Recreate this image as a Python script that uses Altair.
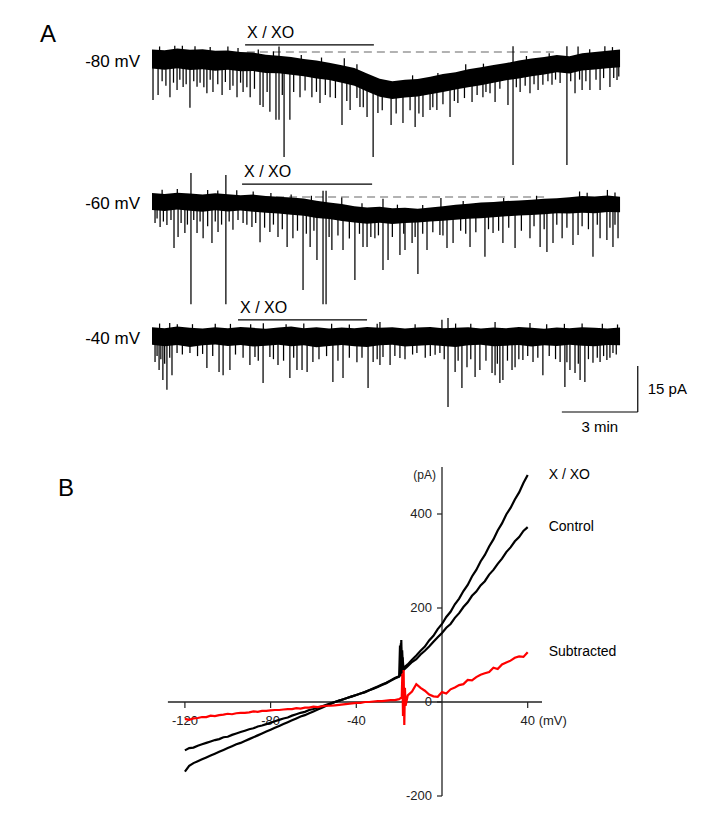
import altair as alt
import numpy as np
import pandas as pd

# ======================= DATA =======================
# ---- Panel A: holding-current recordings (pA, relative to initial baseline) ----
HOLDING = ["-80 mV", "-60 mV", "-40 mV"]
T_GRID = [0.0, 0.5, 1.0, 1.5, 2.0, 2.5, 3.0, 3.5, 4.0, 4.5, 5.0, 5.5, 6.0, 6.5, 7.0, 7.5,
          8.0, 8.5, 9.0, 9.5, 10.0, 10.5, 11.0, 11.5, 12.0, 12.5, 13.0, 13.5, 14.0, 14.5,
          15.0, 15.5, 16.0, 16.5, 17.0, 17.5, 18.0, 18.5]

TOP_80 = [0.8, 0.6, 1.1, 0.7, 0.9, 0.4, 0.5, 0.0, -0.2, -0.9, -1.2, -1.6, -2.3, -2.8, -3.5, -4.3,
          -5.2, -7.0, -8.7, -9.5, -9.0, -8.8, -8.1, -7.2, -6.6, -5.6, -5.0, -4.2, -3.6, -2.8,
          -2.1, -1.6, -1.0, -1.4, -0.4, 0.0, 0.4, 0.8]
BOT_80 = [-5.4, -5.8, -5.3, -5.9, -5.6, -6.1, -5.8, -6.3, -6.2, -6.8, -6.9, -7.4, -7.9, -8.6, -9.1,
          -10.0, -11.0, -12.9, -14.6, -15.3, -14.8, -14.5, -13.8, -13.0, -12.2, -11.5, -10.8,
          -10.0, -9.2, -8.6, -7.9, -7.3, -6.6, -7.0, -6.0, -5.7, -5.3, -5.0]
TOP_60 = [1.3, 1.0, 1.4, 1.1, 0.8, 1.2, 0.9, 0.6, 0.8, 0.3, 0.1, -0.2, -0.5, -1.2, -1.8, -2.3,
          -3.0, -3.4, -3.2, -3.7, -3.5, -3.8, -3.4, -3.0, -2.5, -2.2, -1.8, -1.6, -1.3, -1.1,
          -0.9, -0.6, -0.4, -0.1, 0.3, 0.2, 0.5, 0.1]
BOT_60 = [-4.2, -4.6, -4.1, -4.5, -4.8, -4.3, -4.7, -4.4, -4.8, -5.1, -5.4, -5.8, -6.1, -6.8, -7.2,
          -7.8, -8.3, -8.7, -8.4, -8.8, -8.5, -8.3, -8.0, -7.7, -7.4, -7.1, -6.9, -6.6, -6.3,
          -6.0, -5.9, -5.6, -5.3, -5.4, -5.1, -5.3, -4.9, -5.0]
TOP_40 = [0.9, 0.6, 1.1, 0.7, 0.5, 0.9, 0.6, 1.0, 0.7, 0.4, 0.8, 1.1, 0.6, 0.9, 0.5, 0.8, 0.6,
          1.0, 0.7, 0.9, 0.5, 0.8, 1.0, 0.6, 0.7, 0.9, 0.5, 0.8, 0.6, 1.0, 0.7, 0.4, 0.8, 0.6,
          0.9, 0.7, 0.5, 0.8]
BOT_40 = [-4.8, -5.3, -4.9, -5.5, -5.0, -4.7, -5.2, -4.9, -5.4, -5.1, -4.8, -5.3, -5.0, -5.6, -5.2,
          -4.9, -5.3, -5.5, -5.0, -4.8, -5.4, -5.1, -4.9, -5.2, -5.5, -5.0, -4.8, -5.3, -5.1,
          -4.9, -5.4, -5.0, -5.2, -4.8, -5.1, -5.3, -4.9, -5.0]

# inward (downward) events: time (min), peak current (pA)
SPK_T_80 = [0.04, 0.24, 0.71, 0.99, 1.23, 1.50, 1.78, 2.17, 2.41, 2.77, 3.08, 3.36, 3.60, 3.88,
            4.27, 4.39, 4.66, 4.90, 5.02, 5.22, 5.45, 5.85, 6.32, 6.64, 7.04, 7.51, 7.83, 8.22,
            8.50, 8.74, 8.93, 9.45, 9.92, 10.40, 10.71, 10.99, 11.26, 11.78, 12.09, 12.65,
            13.08, 13.36, 13.56, 14.07, 14.27, 14.55, 14.94, 15.26, 15.45, 15.81, 16.13, 16.40,
            16.72, 17.00, 17.31, 17.71, 18.10, 18.38,
            0.40, 0.55, 0.85, 1.10, 1.35, 1.65, 1.90, 2.05, 2.30, 2.60, 2.90, 3.20, 3.50, 3.75,
            4.05, 4.55, 5.15, 5.60, 6.05, 6.50, 6.85, 7.25, 7.70, 8.10, 8.35, 9.10, 9.65, 10.20,
            10.55, 11.10, 11.50, 11.95, 12.35, 12.85, 13.20, 13.75, 14.40, 14.75, 15.10, 15.65,
            15.95, 16.55, 16.90, 17.15, 17.55, 17.85, 18.25, 18.45]
SPK_I_80 = [-15.6, -14.0, -14.7, -12.4, -11.4, -18.2, -11.3, -13.4, -13.0, -14.0, -12.4, -14.7,
            -13.0, -14.7, -17.3, -17.9, -19.5, -22.1, -22.1, -34.2, -22.1, -14.7, -14.7, -16.6,
            -14.7, -23.8, -18.9, -17.9, -21.2, -34.2, -19.9, -23.8, -23.1, -24.4, -21.2, -18.9,
            -18.9, -21.2, -16.6, -16.3, -14.7, -13.4, -16.3, -17.3, -36.8, -13.0, -13.4, -12.4,
            -10.7, -10.7, -10.1, -36.8, -13.4, -12.4, -12.4, -12.4, -11.4, -9.1,
            -9.5, -11, -10, -9, -10.5, -9.5, -10, -11.5, -9, -10.5, -9.8, -11, -10, -11.5, -12,
            -13, -14, -13, -12.5, -13, -14, -15, -16, -15, -18, -19, -20, -19, -20, -18, -17,
            -16, -15, -14, -13, -12, -11.5, -11, -10.5, -9.5, -9, -9.5, -9, -9.5, -9, -8.5,
            -8.5, -8]
SPK_T_60 = [0.12, 0.32, 0.59, 0.87, 1.03, 1.30, 1.54, 1.78, 2.02, 2.37, 2.61, 2.92, 3.20, 3.60,
            3.95, 4.27, 4.66, 4.98, 5.34, 5.57, 5.97, 6.25, 6.52, 6.76, 6.88, 7.11, 7.55, 8.02,
            8.34, 8.50, 8.81, 9.13, 9.33, 9.80, 10.00, 10.28, 10.51, 10.87, 11.38, 11.66, 11.90,
            12.57, 13.16, 13.48, 13.87, 14.35, 14.94, 15.34, 15.61, 15.85, 16.21, 16.64, 16.84,
            17.43, 17.71, 17.98, 18.22, 18.42,
            0.20, 0.45, 0.75, 1.15, 1.40, 1.65, 1.90, 2.20, 2.50, 2.75, 3.05, 3.40, 3.75, 4.10,
            4.45, 4.80, 5.15, 5.75, 6.10, 6.40, 7.00, 7.35, 7.80, 8.20, 8.65, 8.95, 9.50, 9.95,
            10.40, 10.70, 11.10, 11.50, 12.20, 12.40, 12.80, 13.30, 13.70, 14.10, 14.60, 15.10,
            15.50, 16.00, 16.40, 17.00, 17.25, 17.60, 18.10, 18.30]
SPK_I_60 = [-8.5, -9.8, -9.1, -16.6, -13.0, -11.7, -34.9, -11.7, -13.4, -15.0, -11.4, -34.9, -10.7,
            -8.5, -9.8, -14.7, -11.4, -13.0, -16.3, -13.4, -30.3, -16.3, -20.5, -34.9, -34.9,
            -17.3, -17.3, -27.0, -16.3, -16.3, -13.4, -23.8, -20.5, -18.9, -17.3, -15.0, -25.1,
            -17.3, -12.4, -16.6, -15.0, -16.3, -19.5, -11.7, -15.0, -16.6, -13.4, -16.3, -17.9,
            -15.0, -13.4, -15.6, -12.4, -19.5, -13.4, -14.0, -16.3, -13.4,
            -7, -8, -7.5, -8.5, -9, -7.5, -8, -9.5, -8, -9, -8, -7.5, -9, -8.5, -10, -9, -10.5,
            -11, -12, -11, -13, -12.5, -13.5, -12, -13, -12.5, -13, -12, -13, -12, -11.5, -12.5,
            -11, -12, -11.5, -10.5, -11, -10, -11, -9.5, -10.5, -9, -10, -9.5, -10.5, -9, -10, -9]
SPK_T_40 = [0.12, 0.28, 0.43, 0.59, 0.79, 0.99, 2.17, 2.65, 2.81, 3.08, 3.87, 4.07, 4.39, 4.66,
            4.98, 5.45, 5.73, 5.93, 6.13, 6.36, 7.15, 7.55, 8.54, 9.01, 8.74, 9.13, 9.41, 9.80,
            10.47, 11.19, 11.38, 11.70, 11.98, 12.25, 12.45, 12.77, 12.96, 13.44, 13.56, 13.75,
            13.87, 14.23, 14.35, 14.66, 15.06, 15.45, 16.13, 16.32, 16.52, 16.72, 16.92, 17.11,
            17.43, 17.71, 17.98, 18.22,
            0.20, 0.35, 0.50, 0.70, 1.20, 1.50, 1.80, 2.00, 2.40, 3.30, 3.60, 4.20, 4.80, 5.20,
            5.60, 6.60, 6.90, 7.35, 7.80, 8.10, 8.30, 8.90, 9.60, 10.00, 10.30, 10.80, 11.00,
            11.55, 12.10, 12.60, 13.20, 13.65, 14.05, 14.50, 14.85, 15.25, 15.70, 15.95, 16.40,
            16.85, 17.25, 17.60, 17.85, 18.10, 18.35]
SPK_I_40 = [-10.4, -13.0, -16.3, -19.5, -14.7, -7.5, -12.4, -13.7, -14.7, -13.0, -11.4, -8.8,
            -17.3, -8.8, -11.4, -15.6, -13.0, -13.0, -13.7, -10.4, -16.9, -15.6, -18.9, -11.4,
            -10.4, -8.8, -11.4, -9.1, -7.5, -8.1, -7.5, -25.1, -13.7, -18.9, -12.1, -15.3, -13.0,
            -14.0, -14.7, -17.3, -16.3, -13.0, -12.1, -9.8, -10.4, -14.7, -10.4, -18.6, -13.0,
            -14.0, -16.3, -16.9, -10.7, -10.4, -9.8, -7.5,
            -8.5, -9.5, -11, -9, -8, -7.5, -8.5, -7.8, -8.5, -8, -9, -10, -9.5, -10, -9, -9.5,
            -8.5, -10, -9, -10.5, -9, -9.5, -8.5, -9.5, -8, -9, -8.5, -9.5, -10, -9.5, -10, -11,
            -10, -9.5, -8.5, -9, -8.5, -9.5, -10.5, -11, -9.5, -9, -8.5, -9, -8]

# outward (upward) deflections: time (min), peak current (pA)
UP_T_80 = [5.02, 14.27, 16.40, 16.84, 1.20, 3.00, 7.60, 12.40, 17.90,
           0.3, 0.9, 1.7, 2.3, 3.4, 4.2, 4.8, 5.9, 6.7, 8.1, 10.3, 11.3, 13.1, 14.8, 15.7, 17.3, 18.2]
UP_I_80 = [1.8, 1.9, 1.9, 1.8, 2.0, 1.8, -2.0, -4.0, 1.9,
           1.8, 2.0, 1.9, 1.6, 1.3, 0.8, 0.2, -1.0, -1.8, -4.0, -7.6, -6.8, -3.8, -1.3, -0.4, 0.9, 1.6]
UP_T_60 = [1.54, 2.92, 6.76, 6.88, 3.35, 9.13, 11.42, 7.50, 16.90, 18.00,
           0.4, 1.0, 2.2, 2.6, 4.0, 4.7, 5.5, 6.3, 8.3, 9.7, 10.7, 12.3, 13.9, 15.2, 17.2, 18.3]
UP_I_60 = [7.8, 7.2, 2.0, 2.0, 2.2, -0.6, -0.3, -0.2, 1.8, 2.3,
           2.4, 2.6, 2.3, 2.1, 1.8, 1.3, 0.8, 0.4, -2.0, -2.5, -2.6, -1.3, -0.3, 0.4, 1.4, 1.5]
UP_T_40 = [11.70, 11.46, 13.56, 14.94, 9.01, 8.90, 2.50, 6.00, 16.30, 1.00,
           0.3, 0.7, 1.6, 3.1, 3.9, 4.4, 5.3, 7.1, 7.8, 10.4, 12.0, 12.6, 15.6, 17.0, 17.8, 18.4]
UP_I_40 = [3.9, 3.3, 2.6, 2.3, 2.6, 2.0, 2.0, 2.1, 2.0, 1.9,
           2.1, 2.3, 1.9, 2.0, 1.9, 2.2, 1.9, 2.0, 1.8, 1.9, 2.1, 2.0, 1.9, 2.1, 2.0, 1.8]

# X / XO application (min) and marker level (pA)
DRUG_LABEL = "X / XO"
DRUG_START = [3.68, 3.56, 3.40]
DRUG_END = [8.77, 8.70, 8.50]
DRUG_LEVEL = [2.3, 4.2, 3.3]
# dashed baseline reference (only -80 and -60 mV)
BASE_TRACE = ["-80 mV", "-60 mV"]
BASE_START = [3.75, 4.39]
BASE_END = [16.0, 15.6]
BASE_LEVEL = [0.0, 0.0]
SCALE_MIN = 3
SCALE_PA = 15

# ---- Panel B: I-V relations ----
VOLT = [-120, -118, -116, -114, -112, -110, -108, -106, -104, -102, -100, -98, -96, -94, -92, -90,
        -88, -86, -84, -82, -80, -78, -76, -74, -72, -70, -68, -66, -64, -62, -60, -58, -56, -54,
        -52, -50, -48, -46, -44, -42, -40, -38, -36, -34, -32, -30, -28, -26, -24, -22, -20, -18,
        -16, -14, -12, -10, -8, -6, -4, -2, 0, 2, 4, 6, 8, 10, 12, 14, 16, 18, 20, 22, 24, 26, 28,
        30, 32, 34, 36, 38, 40]
I_CONTROL = [-103, -98, -97, -93, -90, -87, -84, -81, -79, -75, -74, -70, -67, -64, -61, -58, -56,
             -52, -50, -47, -44, -41, -38, -35, -33, -29, -26, -23, -21, -17, -15, -12, -9, -6, -3,
             0, 3, 6, 9, 12, 15, 18, 21, 25, 28, 32, 36, 40, 45, 50, 54, 68, 76, 85, 91, 101, 109,
             118, 128, 138, 147, 158, 166, 179, 189, 202, 212, 226, 235, 248, 257, 271, 281, 294,
             305, 319, 329, 342, 351, 364, 372]
I_XXO = [-148, -136, -130, -126, -122, -118, -114, -110, -106, -102, -98, -94, -90, -87, -83, -79,
         -75, -71, -67, -63, -59, -55, -51, -47, -43, -39, -35, -31, -28, -24, -20, -16, -12, -8,
         -4, 0, 3, 6, 9, 12, 15, 18, 21, 25, 29, 33, 37, 41, 46, 51, 55, 72, 80, 90, 99, 109, 118,
         131, 141, 155, 166, 181, 192, 208, 220, 236, 249, 267, 281, 299, 313, 331, 346, 365, 380,
         399, 413, 431, 446, 466, 483]
I_SUB = [-36, -38, -35, -34, -32, -32, -29, -30, -28, -27, -25, -26, -24, -23, -23, -22, -20, -21,
         -19, -19, -18, -17, -17, -16, -15, -15, -13, -14, -12, -12, -10, -11, -9, -8, -8, -7, -6,
         -5, -4, -3, -2, -2, 0, 0, 1, 2, 2, 3, 4, 4, 6, 5, 14, 22, 38, 30, 24, 16, 12, 11,
         21, 18, 27, 31, 36, 38, 47, 46, 53, 58, 61, 64, 73, 70, 80, 84, 88, 94, 97, 96, 106]
# transient artefact near -19 mV
ART_V_XXO = [-19.6, -19.3, -19.0, -18.7, -18.4]
ART_I_XXO = [120, 58, 132, 62, 95]
ART_V_CON = [-19.5, -19.2, -18.9, -18.6, -18.2]
ART_I_CON = [60, 125, 55, 110, 68]
ART_V_SUB = [-18.8, -18.5, -18.2, -17.9, -17.6, -17.3, -17.0]
ART_I_SUB = [10, 60, -30, 68, -49, 30, -8]
SERIES = ["X / XO", "Control", "Subtracted"]
X_TICKS = [-120, -80, -40, 40]
Y_TICKS = [-200, 0, 200, 400]

# ======================= LAYOUT =======================
W, H = 700, 800
FONT = "Liberation Sans"
# panel A: pixel anchors inside the view
A_T0_PX, A_PX_PER_MIN = 144.0, 25.3
A_Y0_PX, A_PX_PER_PA = 44.0, 3.07
TRACE_SHIFT = {"-80 mV": 0.0, "-60 mV": -145 / A_PX_PER_PA, "-40 mV": -278 / A_PX_PER_PA}
SCALEBAR_T, SCALEBAR_Y = 19.2, -360 / A_PX_PER_PA
# panel B
B_V0_PX, B_PX_PER_MV = 434.0, 85.7 / 40
B_I0_PX, B_PX_PER_PA = 694.0, 0.47

sxA = alt.Scale(domain=[-A_T0_PX / A_PX_PER_MIN, (W - A_T0_PX) / A_PX_PER_MIN], nice=False, zero=False)
syA = alt.Scale(domain=[-(H - A_Y0_PX) / A_PX_PER_PA, A_Y0_PX / A_PX_PER_PA], nice=False, zero=False)
sxB = alt.Scale(domain=[-B_V0_PX / B_PX_PER_MV, (W - B_V0_PX) / B_PX_PER_MV], nice=False, zero=False)
syB = alt.Scale(domain=[-(H - B_I0_PX) / B_PX_PER_PA, B_I0_PX / B_PX_PER_PA], nice=False, zero=False)


def xa(f):
    return alt.X(f, type="quantitative", scale=sxA, axis=None)


def ya(f):
    return alt.Y(f, type="quantitative", scale=syA, axis=None)


def xb(f):
    return alt.X(f, type="quantitative", scale=sxB, axis=None)


def yb(f):
    return alt.Y(f, type="quantitative", scale=syB, axis=None)


# ---------------- panel A tables ----------------
tops = {"-80 mV": TOP_80, "-60 mV": TOP_60, "-40 mV": TOP_40}
bots = {"-80 mV": BOT_80, "-60 mV": BOT_60, "-40 mV": BOT_40}
spk = {"-80 mV": (SPK_T_80, SPK_I_80), "-60 mV": (SPK_T_60, SPK_I_60), "-40 mV": (SPK_T_40, SPK_I_40)}
ups = {"-80 mV": (UP_T_80, UP_I_80), "-60 mV": (UP_T_60, UP_I_60), "-40 mV": (UP_T_40, UP_I_40)}

band_rows, spk_rows, label_rows = [], [], []
for tr in HOLDING:
    sh = TRACE_SHIFT[tr]
    mid = [(a + b) / 2 for a, b in zip(tops[tr], bots[tr])]
    for t, a, b in zip(T_GRID, tops[tr], bots[tr]):
        band_rows.append({"trace": tr, "t": t, "top": a + sh, "bot": b + sh})
    for t, p in zip(*spk[tr]):
        spk_rows.append({"trace": tr, "t": t, "y0": float(np.interp(t, T_GRID, mid)) + sh, "y1": p + sh})
    for t, p in zip(*ups[tr]):
        spk_rows.append({"trace": tr, "t": t, "y0": float(np.interp(t, T_GRID, mid)) + sh, "y1": p + sh})
    label_rows.append({"label": tr, "t": T_GRID[0], "y": mid[0] + sh})

band_df = pd.DataFrame(band_rows)
spk_df = pd.DataFrame(spk_rows)
hold_df = pd.DataFrame(label_rows)
drug_df = pd.DataFrame({
    "trace": HOLDING, "t0": DRUG_START, "t1": DRUG_END,
    "y": [lv + TRACE_SHIFT[tr] for lv, tr in zip(DRUG_LEVEL, HOLDING)],
    "label": [DRUG_LABEL] * 3,
})
base_df = pd.DataFrame({
    "t0": BASE_START, "t1": BASE_END,
    "y": [lv + TRACE_SHIFT[tr] for lv, tr in zip(BASE_LEVEL, BASE_TRACE)],
})
sb_h = pd.DataFrame({"t0": [SCALEBAR_T - SCALE_MIN], "t1": [SCALEBAR_T], "y": [SCALEBAR_Y]})
sb_v = pd.DataFrame({"t": [SCALEBAR_T], "y0": [SCALEBAR_Y], "y1": [SCALEBAR_Y + SCALE_PA]})
sb_txt = pd.DataFrame({
    "t": [SCALEBAR_T - SCALE_MIN / 2, SCALEBAR_T],
    "y": [SCALEBAR_Y, SCALEBAR_Y + SCALE_PA / 2],
    "label": [f"{SCALE_MIN} min", f"{SCALE_PA} pA"],
})

dash = alt.Chart(base_df).mark_rule(color="#666666", strokeWidth=1.2, strokeDash=[8, 5]).encode(
    x=xa("t0"), x2="t1", y=ya("y"))
band = alt.Chart(band_df).mark_area(color="black", interpolate="linear").encode(
    x=xa("t"), y=ya("top"), y2="bot", detail="trace:N")
spikes = alt.Chart(spk_df).mark_rule(color="black", strokeWidth=1.25).encode(
    x=xa("t"), y=ya("y0"), y2="y1")
drug = alt.Chart(drug_df).mark_rule(color="black", strokeWidth=1.3).encode(
    x=xa("t0"), x2="t1", y=ya("y"))
drug_txt = alt.Chart(drug_df).mark_text(align="left", baseline="middle", dx=2, dy=-12,
                                        font=FONT, fontSize=16, color="black").encode(
    x=xa("t0"), y=ya("y"), text="label:N")
hold_txt = alt.Chart(hold_df).mark_text(align="right", baseline="middle", dx=-12, dy=3,
                                        font=FONT, fontSize=17, color="black").encode(
    x=xa("t"), y=ya("y"), text="label:N")
sbh = alt.Chart(sb_h).mark_rule(color="black", strokeWidth=1.2).encode(x=xa("t0"), x2="t1", y=ya("y"))
sbv = alt.Chart(sb_v).mark_rule(color="black", strokeWidth=1.2).encode(x=xa("t"), y=ya("y0"), y2="y1")
sbt1 = alt.Chart(sb_txt.iloc[[0]]).mark_text(align="center", baseline="top", dy=8, font=FONT,
                                             fontSize=15, color="black").encode(
    x=xa("t"), y=ya("y"), text="label:N")
sbt2 = alt.Chart(sb_txt.iloc[[1]]).mark_text(align="left", baseline="middle", dx=10, font=FONT,
                                             fontSize=15, color="black").encode(
    x=xa("t"), y=ya("y"), text="label:N")
letA = alt.Chart(pd.DataFrame({"label": ["A"], "t": [-112 / A_PX_PER_MIN], "y": [17 / A_PX_PER_PA]})).mark_text(
    align="left", baseline="middle", font=FONT, fontSize=24, color="black").encode(
    x=xa("t"), y=ya("y"), text="label:N")

panelA = alt.layer(dash, band, spikes, drug, drug_txt, hold_txt, sbh, sbv, sbt1, sbt2, letA)

# ---------------- panel B tables ----------------
def curve(name, v, i, av, ai):
    d = pd.DataFrame({"v": list(v) + list(av), "i": list(i) + list(ai)})
    d = d.sort_values("v")
    d["series"] = name
    return d


curves = pd.concat([
    curve("X / XO", VOLT, I_XXO, ART_V_XXO, ART_I_XXO),
    curve("Control", VOLT, I_CONTROL, ART_V_CON, ART_I_CON),
    curve("Subtracted", VOLT, I_SUB, ART_V_SUB, ART_I_SUB),
], ignore_index=True)
curves["k"] = range(len(curves))

xaxis_df = pd.DataFrame({"v0": [VOLT[0] - 17 / B_PX_PER_MV], "v1": [100 / B_PX_PER_MV], "i": [0]})
yaxis_df = pd.DataFrame({"v": [0], "i0": [Y_TICKS[0]], "i1": [(694 - 459) / B_PX_PER_PA]})
xt_df = pd.DataFrame({"v": X_TICKS, "i0": [0] * 4, "i1": [-6 / B_PX_PER_PA] * 4,
                      "label": [str(x) for x in X_TICKS]})
yt_df = pd.DataFrame({"i": Y_TICKS, "v0": [0] * 4, "v1": [-5 / B_PX_PER_MV] * 4,
                      "label": [str(y) for y in Y_TICKS]})
ends = pd.DataFrame({"series": SERIES, "v": [VOLT[-1]] * 3, "i": [I_XXO[-1], I_CONTROL[-1], I_SUB[-1]]})
units = pd.DataFrame({"v": [X_TICKS[-1], 0], "i": [0, (694 - 467) / B_PX_PER_PA], "label": ["(mV)", "(pA)"]})

AX = "#222222"
xax = alt.Chart(xaxis_df).mark_rule(color=AX, strokeWidth=1.3).encode(x=xb("v0"), x2="v1", y=yb("i"))
yax = alt.Chart(yaxis_df).mark_rule(color=AX, strokeWidth=1.3).encode(x=xb("v"), y=yb("i0"), y2="i1")
xtk = alt.Chart(xt_df).mark_rule(color=AX, strokeWidth=1.2).encode(x=xb("v"), y=yb("i0"), y2="i1")
ytk = alt.Chart(yt_df).mark_rule(color=AX, strokeWidth=1.2).encode(x=xb("v0"), x2="v1", y=yb("i"))
xlab = alt.Chart(xt_df).mark_text(align="center", baseline="middle", dy=19, font=FONT, fontSize=13,
                                  color=AX).encode(x=xb("v"), y=yb("i0"), text="label:N")
ylab = alt.Chart(yt_df).mark_text(align="right", baseline="middle", dx=-10, font=FONT, fontSize=13,
                                  color=AX).encode(x=xb("v0"), y=yb("i"), text="label:N")
mv_lab = alt.Chart(units.iloc[[0]]).mark_text(align="left", baseline="middle", dx=11, dy=19, font=FONT,
                                              fontSize=13, color=AX).encode(x=xb("v"), y=yb("i"), text="label:N")
pa_lab = alt.Chart(units.iloc[[1]]).mark_text(align="right", baseline="middle", dx=-6, font=FONT,
                                              fontSize=12, color=AX).encode(x=xb("v"), y=yb("i"), text="label:N")
lines = alt.Chart(curves).mark_line(strokeWidth=2.2, interpolate="linear").encode(
    x=xb("v"), y=yb("i"), order="k:Q",
    color=alt.Color("series:N", scale=alt.Scale(domain=SERIES, range=["black", "black", "#ff0000"]),
                    legend=None),
    detail="series:N")
end_lab = alt.Chart(ends).mark_text(align="left", baseline="middle", dx=21, font=FONT, fontSize=14,
                                    color="black").encode(x=xb("v"), y=yb("i"), text="series:N")
letB = alt.Chart(pd.DataFrame({"label": ["B"], "v": [-384 / B_PX_PER_MV], "i": [213 / B_PX_PER_PA]})).mark_text(
    align="left", baseline="middle", font=FONT, fontSize=24, color="black").encode(
    x=xb("v"), y=yb("i"), text="label:N")

panelB = alt.layer(xax, yax, xtk, ytk, xlab, ylab, mv_lab, pa_lab, lines, end_lab, letB)

chart = alt.layer(panelA, panelB).resolve_scale(
    x="independent", y="independent", color="independent"
).properties(width=W, height=H, padding=0, autosize="none").configure_view(stroke=None)

chart.save("out.html", embed_options={"renderer": "svg", "actions": False})
